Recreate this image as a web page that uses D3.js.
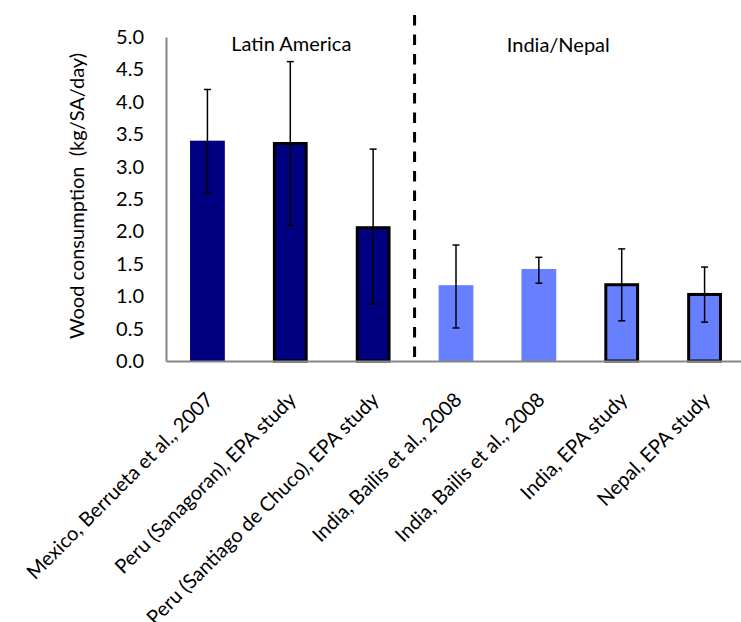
<!DOCTYPE html>
<html>
<head>
<meta charset="utf-8">
<script src="https://cdn.jsdelivr.net/npm/d3@7"></script>
<style>
  body { margin: 0; background: #fff; }
  text { font-family: Lato, "Open Sans", sans-serif; fill: #000; }
</style>
</head>
<body>
<svg></svg>
<script>
// 数据
const categories = [
  "Mexico, Berrueta et al., 2007",
  "Peru (Sanagoran), EPA study",
  "Peru (Santiago de Chuco), EPA study",
  "India, Bailis et al., 2008",
  "India, Bailis et al., 2008",
  "India, EPA study",
  "Nepal, EPA study",
];
const values = [3.4, 3.38, 2.08, 1.17, 1.42, 1.2, 1.05];
const errLow = [2.59, 2.09, 0.88, 0.51, 1.2, 0.62, 0.6];
const errHigh = [4.19, 4.62, 3.27, 1.79, 1.6, 1.73, 1.45];
const region = ["la", "la", "la", "in", "in", "in", "in"];
const outlined = [false, true, true, false, false, true, true];
const regionLabels = ["Latin America", "India/Nepal"];
const yTicks = [0, 0.5, 1, 1.5, 2, 2.5, 3, 3.5, 4, 4.5, 5];

const W = 741, H = 622;
const plotLeft = 166, plotRight = 746, plotTop = 37, plotBottom = 361;
const fontSize = "20px";

const svg = d3.select("svg").attr("width", W).attr("height", H);

const idx = d3.range(categories.length);
const x = d3.scaleBand()
  .domain(idx)
  .range([plotLeft, plotRight])
  .paddingInner(0.58)
  .paddingOuter(0.29);

const y = d3.scaleLinear().domain([0, 5]).range([plotBottom, plotTop]);

const color = { la: "#000080", in: "#6680ff" };

// y轴
const yAxis = svg.append("g")
  .attr("transform", `translate(${plotLeft},0)`)
  .call(d3.axisLeft(y).tickValues(yTicks).tickSize(0).tickPadding(22).tickFormat(d3.format(".1f")));
yAxis.select(".domain").attr("stroke", "#868686").attr("stroke-width", 2);
yAxis.selectAll("text").style("font-size", fontSize).style("font-family", "Lato, sans-serif").attr("fill", "#000");

// 柱子
svg.selectAll(".bar")
  .data(idx)
  .join("rect")
  .attr("class", "bar")
  .attr("x", (i) => x(i) + (outlined[i] ? 1.5 : 0))
  .attr("width", (i) => x.bandwidth() - (outlined[i] ? 3 : 0))
  .attr("y", (i) => y(values[i]) + (outlined[i] ? 1.5 : 0))
  .attr("height", (i) => plotBottom - y(values[i]) - (outlined[i] ? 1.5 : 0))
  .attr("fill", (i) => color[region[i]])
  .attr("stroke", (i) => (outlined[i] ? "#000" : "none"))
  .attr("stroke-width", 3);

// x轴
const xAxis = svg.append("g")
  .attr("transform", `translate(0,${plotBottom})`)
  .call(d3.axisBottom(x).tickSize(0).tickPadding(0).tickFormat((i) => categories[i]));
xAxis.select(".domain").attr("stroke", "#868686").attr("stroke-width", 2);
xAxis.selectAll("text")
  .style("font-size", fontSize)
  .style("font-family", "Lato, sans-serif")
  .attr("fill", "#000")
  .attr("text-anchor", "end")
  .attr("dy", 0)
  .attr("transform", "translate(7,40) rotate(-45)");

// 误差线
const cx = (i) => x(i) + x.bandwidth() / 2;
const eb = svg.selectAll(".err")
  .data(idx)
  .join("g")
  .attr("class", "err")
  .attr("stroke", "#000")
  .attr("stroke-width", 1.5);
eb.append("line")
  .attr("x1", cx).attr("x2", cx)
  .attr("y1", (i) => y(errLow[i]))
  .attr("y2", (i) => y(errHigh[i]));
eb.append("line")
  .attr("x1", (i) => cx(i) - 3.5).attr("x2", (i) => cx(i) + 3.5)
  .attr("y1", (i) => y(errLow[i])).attr("y2", (i) => y(errLow[i]));
eb.append("line")
  .attr("x1", (i) => cx(i) - 3.5).attr("x2", (i) => cx(i) + 3.5)
  .attr("y1", (i) => y(errHigh[i])).attr("y2", (i) => y(errHigh[i]));

// 分隔虚线
const sepX = (cx(2) + cx(3)) / 2;
svg.append("line")
  .attr("x1", sepX).attr("x2", sepX)
  .attr("y1", 15).attr("y2", plotBottom)
  .attr("stroke", "#000")
  .attr("stroke-width", 3)
  .attr("stroke-dasharray", "10.5 9");

// 区域标签
const laX = (cx(0) + cx(2)) / 2;
const inX = (cx(3) + cx(6)) / 2;
svg.append("text").attr("x", laX + 1).attr("y", 51).attr("text-anchor", "middle")
  .style("font-size", fontSize).text(regionLabels[0]);
svg.append("text").attr("x", inX - 22).attr("y", 52).attr("text-anchor", "middle")
  .style("font-size", fontSize).text(regionLabels[1]);

// y轴标题
svg.append("text")
  .attr("transform", `translate(84,196) rotate(-90)`)
  .attr("text-anchor", "middle")
  .style("font-size", fontSize)
  .style("white-space", "pre")
  .text("Wood consumption  (kg/SA/day)");
</script>
</body>
</html>
